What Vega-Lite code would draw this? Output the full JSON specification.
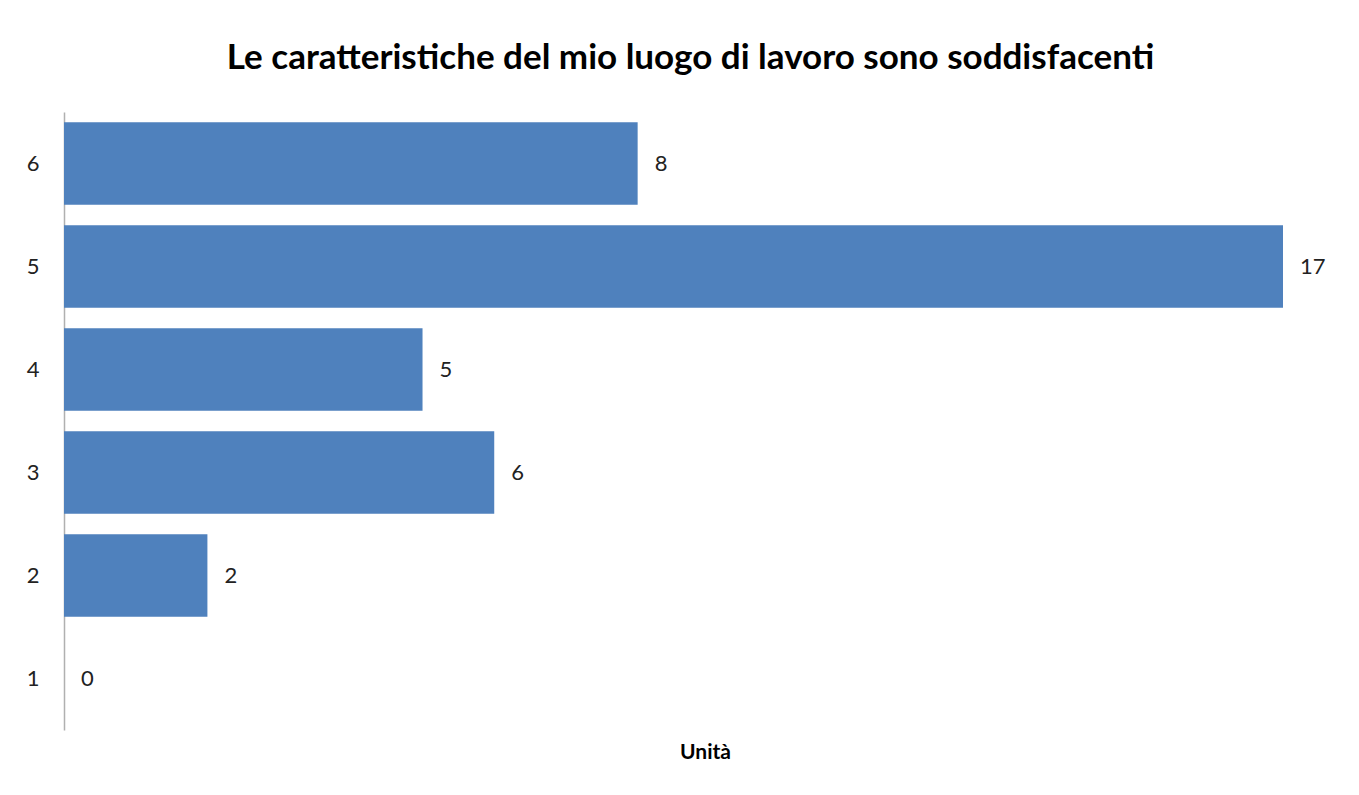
{
  "$schema": "https://vega.github.io/schema/vega-lite/v6.json",
  "autosize": {"type": "none"},
  "width": 1219,
  "height": 618,
  "padding": {"left": 64, "top": 112, "right": 76, "bottom": 65},
  "background": "white",
  "config": {"view": {"stroke": null}, "font": "Lato"},
  "title": {
    "text": "Le caratteristiche del mio luogo di lavoro sono soddisfacenti",
    "font": "Lato",
    "fontSize": 35,
    "fontWeight": "bold",
    "color": "#000000",
    "anchor": "middle",
    "dx": 17,
    "offset": 36
  },
  "data": {
    "values": [
      {"voto": "1", "unita": 0},
      {"voto": "2", "unita": 2},
      {"voto": "3", "unita": 6},
      {"voto": "4", "unita": 5},
      {"voto": "5", "unita": 17},
      {"voto": "6", "unita": 8}
    ]
  },
  "encoding": {
    "y": {
      "field": "voto",
      "type": "nominal",
      "sort": "descending",
      "scale": {"paddingInner": 0.2, "paddingOuter": 0.1},
      "axis": {
        "title": null,
        "ticks": false,
        "domainColor": "#b0b0b0",
        "domainWidth": 1.5,
        "labelFont": "Lato",
        "labelFontSize": 22,
        "labelColor": "#222222",
        "labelPadding": 25,
        "labelAngle": 0
      }
    },
    "x": {
      "field": "unita",
      "type": "quantitative",
      "scale": {"domain": [0, 17], "nice": false},
      "axis": {
        "title": "Unità",
        "titleFont": "Lato",
        "titleFontSize": 21,
        "titleFontWeight": "bold",
        "titleColor": "#000000",
        "titleX": 641,
        "titlePadding": 11,
        "labels": false,
        "ticks": false,
        "domain": false,
        "grid": false
      }
    }
  },
  "layer": [
    {"mark": {"type": "bar", "color": "#4F81BD"}},
    {
      "mark": {"type": "text", "align": "left", "dx": 17, "font": "Lato", "fontSize": 22, "color": "#222222"},
      "encoding": {"text": {"field": "unita", "type": "quantitative"}}
    }
  ]
}
